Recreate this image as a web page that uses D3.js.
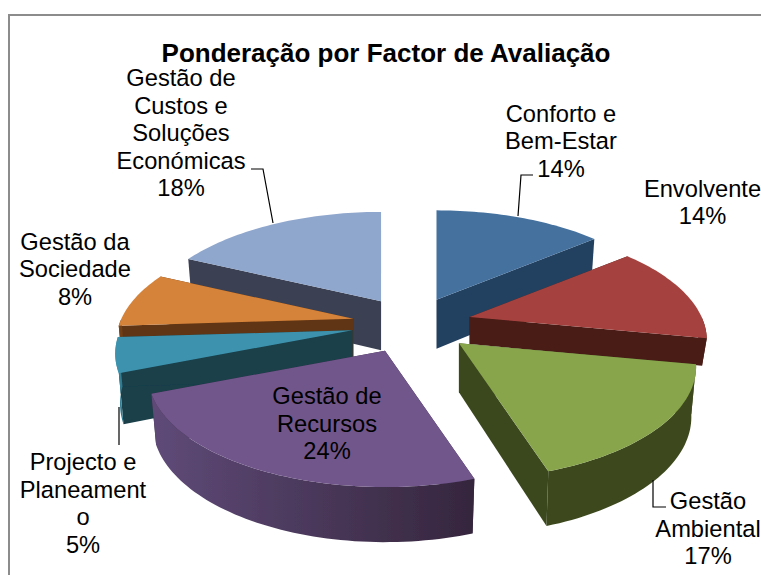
<!DOCTYPE html>
<html>
<head>
<meta charset="utf-8">
<script src="https://cdn.jsdelivr.net/npm/d3@7"></script>
<style>
  body { margin: 0; background: #fff; overflow: hidden; }
  text { font-family: "Liberation Sans", Arial, sans-serif; fill: #000; }
</style>
</head>
<body>
<svg id="chart" width="761" height="575"></svg>
<script>
var title = "Ponderação por Factor de Avaliação";
var categories = ["Conforto e Bem-Estar", "Envolvente", "Gestão Ambiental", "Gestão de Recursos",
  "Projecto e Planeamento", "Gestão da Sociedade", "Gestão de Custos e Soluções Económicas"];
var values = [14, 14, 17, 24, 5, 8, 18];

var topColors = ["#44719f", "#a5433f", "#88a54c", "#71568c", "#3d93ad", "#d5823a", "#8fa6cd"];
var wallColors = ["#243f5f", "#481b17", "#3a471d", "#3a2a45", "#1a3f4a", "#5f3514", "#3a4152"];
var rimLeft = ["#2f5380", "#481b17", "#3d4a1f", "#5f4a78", "#3d93ad", "#7a4519", "#4a5468"];
var rimRight = ["#243f5f", "#481b17", "#3d4a1f", "#35263d", "#2c7285", "#5f3514", "#3a4152"];
// the red slice sits lower in the reference, green covers most of its wall
var sliceDepth = [49, 27, 49, 49, 49, 49, 49];

// wrapped the way the chart wraps them, anchors are the text centres
var labelLines = [
  ["Conforto e", "Bem-Estar", "14%"],
  ["Envolvente", "14%"],
  ["Gestão", "Ambiental", "17%"],
  ["Gestão de", "Recursos", "24%"],
  ["Projecto e", "Planeament", "o", "5%"],
  ["Gestão da", "Sociedade", "8%"],
  ["Gestão de", "Custos e", "Soluções", "Económicas", "18%"]
];
var labelX = [561, 702.5, 708, 327, 83, 75, 181];
var labelY = [121.5, 196.5, 509, 404, 470, 249.5, 86];
var leaders = [
  [[533, 175], [521, 175], [518, 216]],
  [[251, 169], [263, 169], [273, 223]],
  [[653, 480], [653, 507], [666, 507]],
  [[119, 407], [119, 445]]
];

var svg = d3.select("#chart");
var cx = 412, cy = 324;
var radiusX = 232, radiusY = 108, tilt = 0.208;
var explode = 0.26, shrink = 0.98;
var lineHeight = 27.6;

function project(u, v) {
  var s = 1 / (1 + tilt * v);
  return [radiusX * u * s, -radiusY * v * s, s];
}

var pie = d3.pie().sort(null).value(function(d) { return d; });
var slices = pie(values).map(function(d) {
  var mid = (d.startAngle + d.endAngle) / 2;
  d.offset = project(explode * Math.sin(mid), explode * Math.cos(mid));
  d.back = Math.cos(mid);
  return d;
});

function topPoint(d, a, r) {
  var p = project(r * Math.sin(a), r * Math.cos(a));
  return [cx + d.offset[0] + p[0], cy + d.offset[1] + p[1]];
}
function bottomPoint(d, a, r) {
  var p = project(r * Math.sin(a), r * Math.cos(a));
  return [cx + d.offset[0] + p[0] * shrink,
    cy + d.offset[1] + p[1] + sliceDepth[d.index] * Math.sqrt(p[2])];
}
function arcAngles(from, to) {
  var n = Math.max(8, Math.ceil((to - from) * 40));
  return d3.range(n + 1).map(function(i) {
    return from + (to - from) * i / n;
  });
}

var path = d3.line().curve(d3.curveLinearClosed);
var defs = svg.append("defs");
defs.append("filter").attr("id", "soft")
  .append("feGaussianBlur").attr("stdDeviation", 0.45);

slices.forEach(function(d) {
  var grad = defs.append("linearGradient").attr("id", "rim" + d.index);
  grad.append("stop").attr("offset", "0%").attr("stop-color", rimLeft[d.index]);
  grad.append("stop").attr("offset", "100%").attr("stop-color", rimRight[d.index]);
});

svg.append("path")
  .attr("d", "M9,575V15H761")
  .attr("fill", "none")
  .attr("stroke", "#8c8c8c")
  .attr("stroke-width", 2);

// back slices first so the front ones cover them
var order = slices.slice().sort(function(a, b) { return b.back - a.back; });
var groups = svg.append("g").attr("filter", "url(#soft)")
  .selectAll("g").data(order).enter().append("g");

[ "startAngle", "endAngle" ].forEach(function(key) {
  groups.append("path")
    .attr("fill", function(d) { return wallColors[d.index]; })
    .attr("d", function(d) {
      var a = d[key];
      return path([topPoint(d, a, 0), topPoint(d, a, 1), bottomPoint(d, a, 1), bottomPoint(d, a, 0)]);
    });
});

// only the front half of the rim can be seen
groups.append("path")
  .attr("fill", function(d) { return "url(#rim" + d.index + ")"; })
  .attr("d", function(d) {
    var from = Math.max(d.startAngle, Math.PI / 2);
    var to = Math.min(d.endAngle, Math.PI * 1.5);
    if (to <= from) return null;
    var angles = arcAngles(from, to);
    var upper = angles.map(function(a) { return topPoint(d, a, 1); });
    var lower = angles.slice().reverse().map(function(a) { return bottomPoint(d, a, 1); });
    return path(upper.concat(lower));
  });

groups.append("path")
  .attr("fill", function(d) { return topColors[d.index]; })
  .attr("d", function(d) {
    var pts = arcAngles(d.startAngle, d.endAngle).map(function(a) { return topPoint(d, a, 1); });
    pts.unshift(topPoint(d, d.startAngle, 0));
    return path(pts);
  });

svg.selectAll("path.leader").data(leaders).enter().append("path")
  .attr("class", "leader")
  .attr("fill", "none")
  .attr("stroke", "#000")
  .attr("stroke-width", 1.2)
  .attr("d", d3.line());

svg.append("text")
  .attr("x", 386).attr("y", 61.5)
  .attr("text-anchor", "middle")
  .attr("font-size", 26)
  .attr("font-weight", "bold")
  .text(title);

var labels = svg.selectAll("text.label").data(labelLines).enter().append("text")
  .attr("class", "label")
  .attr("text-anchor", "middle")
  .attr("font-size", 23.7)
  .attr("aria-label", function(d, i) { return categories[i]; });

labels.selectAll("tspan")
  .data(function(d, i) {
    return d.map(function(line, j) {
      return { text: line, x: labelX[i], y: labelY[i] + j * lineHeight };
    });
  })
  .enter().append("tspan")
  .attr("x", function(d) { return d.x; })
  .attr("y", function(d) { return d.y; })
  .text(function(d) { return d.text; });
</script>
</body>
</html>
